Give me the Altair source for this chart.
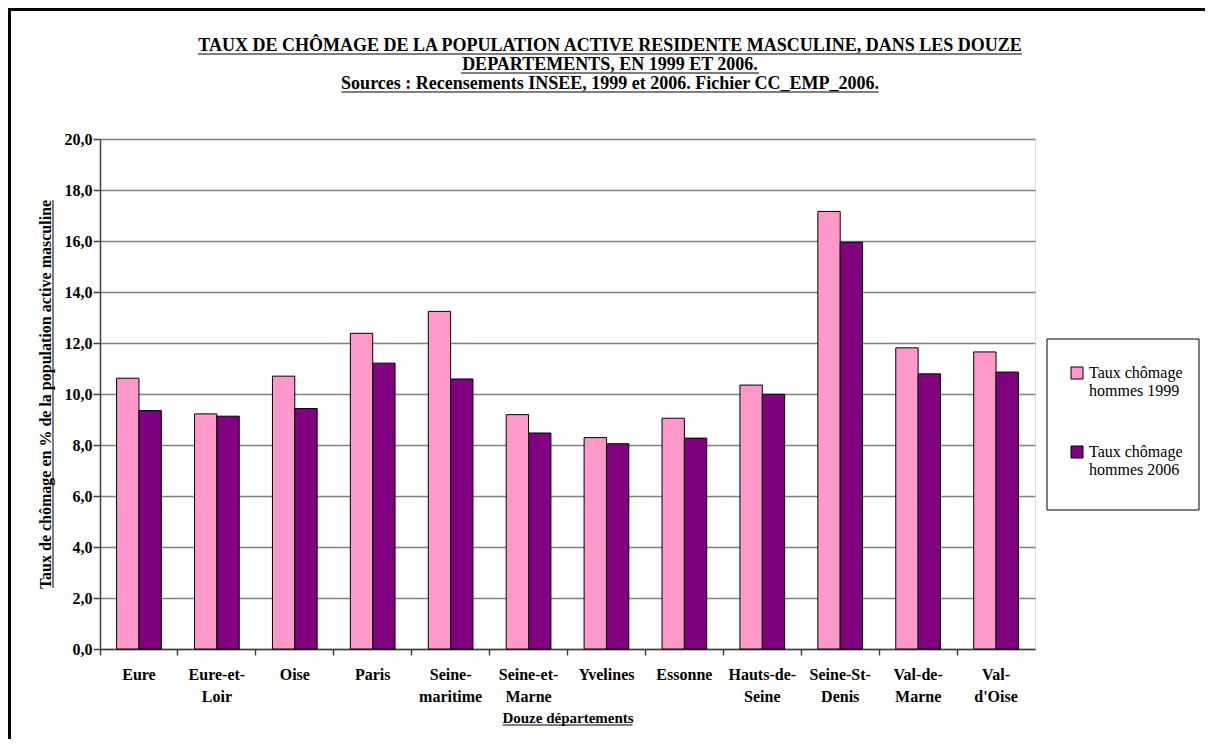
import altair as alt
import pandas as pd

depts = ["Eure", "Eure-et-Loir", "Oise", "Paris", "Seine-maritime", "Seine-et-Marne",
         "Yvelines", "Essonne", "Hauts-de-Seine", "Seine-St-Denis", "Val-de-Marne", "Val-d'Oise"]
v1999 = [10.62, 9.22, 10.70, 12.38, 13.24, 9.19, 8.29, 9.05, 10.35, 17.16, 11.81, 11.65]
v2006 = [9.35, 9.13, 9.43, 11.21, 10.59, 8.47, 8.05, 8.27, 9.99, 15.95, 10.79, 10.86]
series = ["Taux chômage hommes 1999", "Taux chômage hommes 2006"]
colors = ["#FF99CC", "#800080"]
y_ticks = [0, 2, 4, 6, 8, 10, 12, 14, 16, 18, 20]

title_lines = [
    "TAUX DE CHÔMAGE DE LA POPULATION ACTIVE RESIDENTE MASCULINE, DANS LES DOUZE",
    "DEPARTEMENTS, EN 1999 ET 2006.",
    "Sources : Recensements INSEE, 1999 et 2006. Fichier CC_EMP_2006.",
]
x_title = "Douze départements"
y_title = "Taux de chômage en % de la population active masculine"

rows = []
for d, a, b in zip(depts, v1999, v2006):
    rows.append({"dept": d, "serie": series[0], "value": a})
    rows.append({"dept": d, "serie": series[1], "value": b})
df = pd.DataFrame(rows)

FONT = "Liberation Serif"
W, H = 935, 510
one = pd.DataFrame({"k": [0]})

bars = alt.Chart(df).mark_bar(stroke="black", strokeWidth=1).encode(
    x=alt.X("dept:N", sort=depts,
            scale=alt.Scale(paddingInner=0, paddingOuter=0),
            axis=alt.Axis(title=x_title, bandPosition=0, labelOffset=0,
                          labelAngle=0, labelAlign="center",
                          labelExpr="lastindexof(datum.label,'-') > 0 ? [slice(datum.label,0,lastindexof(datum.label,'-')+1), slice(datum.label,lastindexof(datum.label,'-')+1)] : datum.label",
                          labelFont=FONT, labelFontSize=16, labelFontWeight="bold",
                          labelColor="black", labelLineHeight=22, labelPadding=11,
                          ticks=True, tickSize=6, tickColor="#404040", tickWidth=1.5,
                          domainColor="#404040", domainWidth=1.5,
                          titleFont=FONT, titleFontSize=15, titleFontWeight="bold",
                          titleColor="black", titlePadding=6, grid=False)),
    xOffset=alt.XOffset("serie:N", sort=series,
                        scale=alt.Scale(paddingInner=0, paddingOuter=0.743)),
    y=alt.Y("value:Q",
            scale=alt.Scale(domain=[0, 20], nice=False),
            axis=alt.Axis(title=y_title, values=y_ticks,
                          labelExpr="replace(format(datum.value,'.1f'),'.',',')",
                          labelFont=FONT, labelFontSize=16, labelFontWeight="bold",
                          labelColor="black", labelPadding=1,
                          tickSize=7, tickColor="#404040", tickWidth=1.5,
                          domainColor="#404040", domainWidth=1.5,
                          grid=True, gridColor="#808080", gridWidth=1.5,
                          titleFont=FONT, titleFontSize=16, titleFontWeight="bold",
                          titleColor="black", titlePadding=11)),
    color=alt.Color("serie:N", sort=series,
                    scale=alt.Scale(domain=series, range=colors),
                    legend=alt.Legend(title=None, orient="none", legendX=969, legendY=226,
                                      direction="vertical", padding=0,
                                      symbolType="square", symbolSize=144,
                                      symbolStrokeColor="black", symbolStrokeWidth=1,
                                      labelFont=FONT, labelFontSize=16, labelColor="black",
                                      labelExpr="split(replace(datum.label, ' hommes', '|hommes'), '|')",
                                      rowPadding=45)),
)

frame = alt.Chart(one).mark_rect(fill=None, stroke="black", strokeWidth=3).encode(
    x=alt.value(-90.5), x2=alt.value(1300), y=alt.value(-129.5), y2=alt.value(900))

legend_box = alt.Chart(one).mark_rect(fill="white", stroke="black", strokeWidth=1).encode(
    x=alt.value(947), x2=alt.value(1099), y=alt.value(200), y2=alt.value(371))

# title lines (centre x = page 610 -> plot 510)
TX = 510
title_y = [-93, -74, -55]
title_w = [824, 298, 537]
layers = [frame, legend_box]
for line, ty, tw in zip(title_lines, title_y, title_w):
    layers.append(alt.Chart(one).mark_text(font=FONT, fontSize=18, fontWeight="bold",
                                           color="black", baseline="middle", align="center").encode(
        x=alt.value(TX), y=alt.value(ty), text=alt.value(line)))
    layers.append(alt.Chart(one).mark_rule(color="black", strokeWidth=1.2).encode(
        x=alt.value(TX - tw / 2), x2=alt.value(TX + tw / 2),
        y=alt.value(ty + 8), y2=alt.value(ty + 8)))

# underline of x title
layers.append(alt.Chart(one).mark_rule(color="black", strokeWidth=1).encode(
    x=alt.value(W / 2 - 65), x2=alt.value(W / 2 + 65), y=alt.value(H + 76), y2=alt.value(H + 76)))
# underline of y title
layers.append(alt.Chart(one).mark_rule(color="black", strokeWidth=1).encode(
    x=alt.value(-47), x2=alt.value(-47), y=alt.value(H / 2 - 194), y2=alt.value(H / 2 + 194)))

layers.append(bars)

chart = alt.layer(*layers).properties(
    width=W, height=H,
    padding={"left": 92, "top": 131, "right": 170, "bottom": 90},
    autosize=alt.AutoSizeParams(type="none"),
).configure_view(stroke="#808080", strokeWidth=1.5).configure(background="white")

chart.save("out.html", embed_options={"renderer": "svg", "actions": False})
